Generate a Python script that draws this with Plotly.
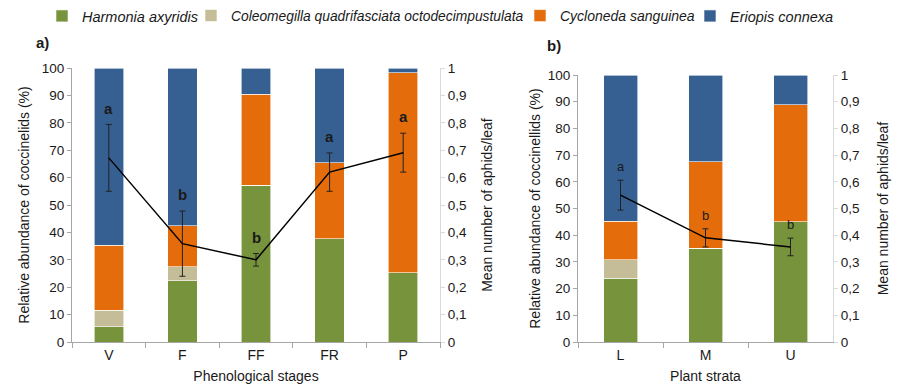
import plotly.graph_objects as go

# ---------------- data ----------------
species = ["Harmonia axyridis", "Coleomegilla quadrifasciata octodecimpustulata",
           "Cycloneda sanguinea", "Eriopis connexa"]
colors = ["#77933C", "#C4BD97", "#E46C0A", "#376092"]

stages = ["V", "F", "FF", "FR", "P"]
stage_n = [17, 40, 136, 29, 59]
stage_harmonia = [5.6, 22.4, 57.2, 37.7, 25.2]
stage_coleomegilla = [6.0, 5.0, 0.0, 0.0, 0.0]
stage_cycloneda = [23.7, 15.1, 33.2, 27.8, 73.1]
stage_eriopis = [64.7, 57.5, 9.6, 34.5, 1.7]
stage_aphids = [0.672, 0.359, 0.300, 0.620, 0.691]
stage_err = [0.122, 0.119, 0.023, 0.070, 0.071]
stage_letters = ["a", "b", "b", "a", "a"]

strata = ["L", "M", "U"]
strata_n = [42, 37, 202]
strata_harmonia = [23.8, 35.1, 45.0]
strata_coleomegilla = [7.1, 0.0, 0.0]
strata_cycloneda = [14.4, 32.5, 43.8]
strata_eriopis = [54.7, 32.4, 11.2]
strata_aphids = [0.550, 0.390, 0.356]
strata_err = [0.056, 0.034, 0.033]
strata_letters = ["a", "b", "b"]

FONT = "Arial, Liberation Sans, sans-serif"
TXT = "#1a1a1a"

fig = go.Figure()

stage_series = [stage_harmonia, stage_coleomegilla, stage_cycloneda, stage_eriopis]
strata_series = [strata_harmonia, strata_coleomegilla, strata_cycloneda, strata_eriopis]
legend_ids = ["legend", "legend2", "legend3", "legend4"]

for i, (name, col) in enumerate(zip(species, colors)):
    fig.add_trace(go.Bar(x=stages, y=stage_series[i], name="<i>" + name + "</i>",
                         marker=dict(color=col, line=dict(color="#ffffff", width=0.6)),
                         width=0.4, xaxis="x", yaxis="y", legendgroup=name,
                         legend=legend_ids[i], showlegend=True))
for i, (name, col) in enumerate(zip(species, colors)):
    fig.add_trace(go.Bar(x=strata, y=strata_series[i], name="<i>" + name + "</i>",
                         marker=dict(color=col, line=dict(color="#ffffff", width=0.6)),
                         width=0.4, xaxis="x2", yaxis="y3", legendgroup=name,
                         showlegend=False))

fig.add_trace(go.Scatter(x=stages, y=stage_aphids, mode="lines",
                         line=dict(color="black", width=1.5),
                         error_y=dict(type="data", array=stage_err, color="#222222",
                                      thickness=1, width=3),
                         xaxis="x", yaxis="y2", showlegend=False))
fig.add_trace(go.Scatter(x=strata, y=strata_aphids, mode="lines",
                         line=dict(color="black", width=1.5),
                         error_y=dict(type="data", array=strata_err, color="#222222",
                                      thickness=1, width=3),
                         xaxis="x2", yaxis="y4", showlegend=False))

ann = []
for s, n in zip(stages, stage_n):
    ann.append(dict(x=s, y=104, xref="x", yref="y", text=f"n= {n}", showarrow=False,
                    font=dict(size=14, color=TXT, family=FONT)))
for s, n in zip(strata, strata_n):
    ann.append(dict(x=s, y=105.6, xref="x2", yref="y3", text=f"n= {n}", showarrow=False,
                    font=dict(size=14, color=TXT, family=FONT)))
for s, v, e, l in zip(stages, stage_aphids, stage_err, stage_letters):
    ann.append(dict(x=s, y=v + e + 0.06, xref="x", yref="y2", text=f"<b>{l}</b>",
                    showarrow=False, font=dict(size=15, color=TXT, family=FONT)))
for s, v, e, l in zip(strata, strata_aphids, strata_err, strata_letters):
    ann.append(dict(x=s, y=v + e + 0.05, xref="x2", yref="y4", text=l,
                    showarrow=False, font=dict(size=13, color=TXT, family=FONT)))
ann.append(dict(x=34 / 903, y=1 - 42 / 384, xref="paper", yref="paper", text="<b>a)</b>",
                showarrow=False, xanchor="left", yanchor="middle",
                font=dict(size=15, color=TXT, family=FONT)))
ann.append(dict(x=545 / 903, y=1 - 45 / 384, xref="paper", yref="paper", text="<b>b)</b>",
                showarrow=False, xanchor="left", yanchor="middle",
                font=dict(size=15, color=TXT, family=FONT)))

AX = "#A6A6A6"
tickfont = dict(size=13.5, color=TXT, family=FONT)
titlefont = dict(size=14, color=TXT, family=FONT)

legend_x = [42, 191, 520, 690]
legend_fs = [14.5, 13.8, 14, 14.5]
legend_layout = {}
for lid, lx, fs in zip(legend_ids, legend_x, legend_fs):
    legend_layout[lid] = dict(orientation="h", x=lx / 903, y=1.0, xanchor="left",
                              yanchor="top", font=dict(size=fs, color=TXT, family=FONT),
                              itemwidth=30, bgcolor="rgba(0,0,0,0)")

fig.update_layout(
    width=903, height=384, barmode="stack", bargap=0.6,
    margin=dict(l=0, r=0, t=0, b=0, autoexpand=False),
    paper_bgcolor="white", plot_bgcolor="white",
    separators=",.",
    font=dict(family=FONT, color=TXT),
    annotations=ann,
    **legend_layout,
    xaxis=dict(domain=[72 / 903, 440 / 903], anchor="y", range=[-0.5, 4.5],
               showline=True, linecolor=AX, ticks="outside", tickson="boundaries",
               ticklen=5, tickcolor=AX, tickfont=dict(size=14, color=TXT, family=FONT),
               automargin=False,
               title=dict(text="Phenological stages", font=titlefont, standoff=10)),
    yaxis=dict(domain=[1 - 342 / 384, 1 - 68 / 384], anchor="x", range=[0, 100], dtick=10,
               showline=True, linecolor=AX, ticks="outside", ticklen=4, tickcolor=AX,
               showgrid=False, zeroline=False, tickfont=tickfont, automargin=False,
               title=dict(text="Relative abundance of coccinelids (%)", font=titlefont,
                          standoff=8)),
    yaxis2=dict(overlaying="y", side="right", anchor="x", range=[0, 1], dtick=0.1,
                showline=True, linecolor="#D9D9D9", ticks="outside", ticklen=4,
                tickcolor="#D9D9D9", showgrid=False, zeroline=False, tickfont=tickfont,
                automargin=False,
                title=dict(text="Mean number of aphids/leaf", font=titlefont, standoff=16)),
    xaxis2=dict(domain=[578 / 903, 833 / 903], anchor="y3", range=[-0.5, 2.5],
                showline=True, linecolor=AX, ticks="outside", tickson="boundaries",
                ticklen=5, tickcolor=AX, tickfont=dict(size=14, color=TXT, family=FONT),
                automargin=False,
                title=dict(text="Plant strata", font=titlefont, standoff=10)),
    yaxis3=dict(domain=[1 - 342 / 384, 1 - 75 / 384], anchor="x2", range=[0, 100], dtick=10,
                showline=True, linecolor=AX, ticks="outside", ticklen=4, tickcolor=AX,
                showgrid=False, zeroline=False, tickfont=tickfont, automargin=False,
                title=dict(text="Relative abundance of coccinellids (%)", font=titlefont,
                           standoff=3)),
    yaxis4=dict(overlaying="y3", side="right", anchor="x2", range=[0, 1], dtick=0.1,
                showline=True, linecolor="#D9D9D9", ticks="outside", ticklen=4,
                tickcolor="#D9D9D9", showgrid=False, zeroline=False, tickfont=tickfont,
                automargin=False,
                title=dict(text="Mean number of aphids/leaf", font=titlefont, standoff=19)),
)

fig.write_html("out.html")
